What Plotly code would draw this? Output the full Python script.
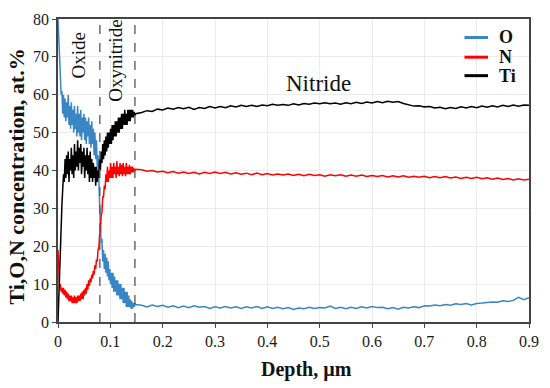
import plotly.graph_objects as go

# ---------------- data ----------------
# sampling depths (µm): dense near the surface, coarser in the bulk
depth_surface = [round(0.0015 * i, 4) for i in range(100)]
depth_bulk = [round(0.16 + 0.01 * i, 2) for i in range(75)]

o_surface = [80, 75, 69, 64, 60, 61, 55, 60, 54, 59,
             53, 58, 54, 60, 52, 57, 51, 58, 52, 56,
             50, 57, 51, 55, 49, 57, 50, 55, 49, 56,
             48, 54, 50, 55, 48, 54, 47, 53, 49, 54,
             47, 52, 46, 53, 47, 51, 44, 50, 43, 48,
             41, 44, 36, 30, 25, 21, 22, 16, 19, 14,
             18, 13, 17, 12, 16, 11, 14, 10, 13, 9,
             13, 8, 12, 8, 11, 7, 11, 7, 10, 6,
             10, 6, 9, 5, 9, 5, 8, 4, 8, 4,
             7, 4, 6, 3.5, 5.5, 3.5, 5, 4, 5, 4.6]
n_surface = [19, 12, 9, 10, 8, 9, 7.5, 9, 7, 8.5,
             6.5, 8, 6, 7.5, 5.5, 7, 5.5, 7, 5, 6.5,
             5, 7, 5, 6.5, 5, 7, 5.5, 7, 5.5, 7.5,
             6, 8, 6, 8.5, 7, 9, 7.5, 10, 8.5, 11,
             9.5, 11.5, 10.5, 12.5, 11.5, 13.5, 12.5, 15, 14, 16.5,
             16, 19, 19.5, 23, 24, 28, 29, 33, 33, 36,
             35, 39, 37, 41, 37, 40, 38, 42, 38, 41,
             38, 42, 39, 41, 38, 42.5, 39, 41, 38.5, 42,
             39, 41.5, 38.5, 42, 39, 41, 38.5, 42, 39, 41,
             39, 41.5, 39, 41, 39.5, 41, 39.5, 40.5, 40, 40.3]
ti_surface = [0, 7, 14, 20, 26, 31, 35, 39, 37, 43,
              38, 44, 39, 45, 37, 43, 40, 46, 39, 44,
              38, 47, 40, 45, 41, 48, 40, 46, 42, 47,
              39, 45, 41, 46, 38, 44, 40, 46, 39, 44,
              37, 45, 38, 43, 37, 42, 38, 41, 36, 41,
              37, 40, 38, 43, 40, 45, 42, 47, 43, 48,
              44, 49, 45, 50, 46, 50, 47, 51, 47, 52,
              48, 52, 49, 53, 49, 53, 50, 54, 50, 54,
              51, 55, 51, 55, 52, 56, 52, 55, 52, 56,
              53, 56, 53, 56, 54, 56, 54, 55.5, 54.5, 55]

o_bulk = [4.4, 4.0, 4.5, 4.1, 4.4, 3.9, 4.3, 3.8, 4.2, 3.8,
          4.3, 3.9, 4.1, 3.6, 4.0, 3.7, 4.1, 3.7, 4.0, 3.6,
          4.0, 3.7, 4.1, 3.6, 4.0, 3.6, 3.9, 3.5, 3.8, 3.3,
          3.7, 3.5, 3.9, 3.6, 3.8, 3.7, 4.2, 3.6, 3.9, 3.5,
          3.9, 3.6, 4.0, 3.7, 4.1, 3.8, 3.9, 3.5, 3.8, 3.4,
          3.9, 3.7, 4.0, 3.8, 4.3, 4.2, 4.5, 4.3, 4.6, 4.4,
          4.8, 4.6, 4.9, 4.5, 4.9, 5.0, 5.1, 5.3, 5.2, 5.6,
          5.4, 5.7, 6.5, 5.9, 6.4]
n_bulk = [40.2, 39.8, 40.0, 39.6, 39.8, 39.4, 39.7, 39.3, 39.6, 39.2,
          39.5, 39.1, 39.5, 39.2, 39.6, 39.2, 39.5, 39.1, 39.4, 39.0,
          39.3, 38.9, 39.3, 38.9, 39.2, 38.8, 39.1, 38.8, 39.1, 38.7,
          39.0, 38.6, 39.0, 38.7, 38.9, 38.5, 38.9, 38.6, 38.9, 38.5,
          38.8, 38.5, 38.8, 38.4, 38.7, 38.4, 38.7, 38.3, 38.6, 38.3,
          38.6, 38.2, 38.5, 38.2, 38.5, 38.1, 38.4, 38.1, 38.4, 38.0,
          38.3, 37.9, 38.2, 37.9, 38.2, 37.8, 38.1, 37.7, 38.0, 37.6,
          37.9, 37.5, 37.8, 37.5, 37.7]
ti_bulk = [55.3, 55.8, 55.6, 56.2, 56.0, 56.5, 56.2, 56.6, 56.3, 56.7,
           56.1, 56.6, 56.4, 56.9, 56.5, 56.9, 56.6, 57.1, 56.8, 57.2,
           56.9, 57.2, 56.9, 57.3, 57.1, 57.5, 57.2, 57.4, 57.2, 57.6,
           57.3, 57.7, 57.5, 57.8, 57.6, 57.9, 57.6, 57.8, 57.5, 57.9,
           57.6, 58.0, 57.7, 58.1, 57.8, 58.2, 57.9, 58.3, 58.0, 58.2,
           57.7, 57.4, 57.0, 57.1, 56.8, 56.9, 56.5, 56.7, 56.3, 56.6,
           56.4, 56.8, 56.5, 56.9, 56.6, 57.0, 56.7, 57.1, 56.8, 57.2,
           56.9, 57.3, 57.0, 57.3, 57.2]

series_names = ["O", "N", "Ti"]
series_colors = ["#3a86c4", "#ff0000", "#000000"]

# layer boundaries (µm) and region labels
boundaries = [0.08, 0.147]
region_labels = ["Oxide", "Oxynitride", "Nitride"]
region_label_x = [0.041, 0.111, 0.498]
region_label_y = [70.5, 69, 63]

x_ticks = [0, 0.1, 0.2, 0.3, 0.4, 0.5, 0.6, 0.7, 0.8, 0.9]
x_tick_text = ["0", "0.1", "0.2", "0.3", "0.4", "0.5", "0.6", "0.7", "0.8", "0.9"]
y_ticks = [0, 10, 20, 30, 40, 50, 60, 70, 80]

# ---------------- figure ----------------
depth = depth_surface + depth_bulk
values = [o_surface + o_bulk, n_surface + n_bulk, ti_surface + ti_bulk]

SERIF = "Liberation Serif"

fig = go.Figure()
for name, color, vals in zip(series_names, series_colors, values):
    fig.add_trace(go.Scatter(x=depth, y=vals, mode="lines", name=name,
                             line=dict(color=color, width=1.5), showlegend=False))

for b in boundaries:
    fig.add_shape(type="line", xref="x", yref="y", x0=b, x1=b, y0=0, y1=80,
                  line=dict(color="#555555", width=1.3, dash="dash"))

for lbl, lx, ly in zip(region_labels, region_label_x, region_label_y):
    fig.add_annotation(x=lx, y=ly, xref="x", yref="y", text=lbl, showarrow=False,
                       textangle=0 if lbl == "Nitride" else -90,
                       font=dict(family=SERIF, size=23 if lbl == "Nitride" else 19,
                                 color="#111111"))

# legend drawn as key lines + bold labels in the upper-right corner
legend_row_y = [0.939, 0.874, 0.813]
for name, color, ry in zip(series_names, series_colors, legend_row_y):
    fig.add_shape(type="line", xref="paper", yref="paper", x0=0.863, x1=0.913,
                  y0=ry, y1=ry, line=dict(color=color, width=3))
    fig.add_annotation(x=0.933, y=ry, xref="paper", yref="paper", text="<b>" + name + "</b>",
                       showarrow=False, xanchor="left", yanchor="middle",
                       font=dict(family=SERIF, size=18, color="#111111"))

fig.add_annotation(x=0.527, y=-0.156, xref="paper", yref="paper", text="<b>Depth, µm</b>",
                   showarrow=False, xanchor="center", yanchor="middle",
                   font=dict(family=SERIF, size=20, color="#111111"))
fig.add_annotation(x=-0.087, y=0.48, xref="paper", yref="paper",
                   text="<b>Ti,O,N concentration, at.%</b>", showarrow=False, textangle=-90,
                   xanchor="center", yanchor="middle",
                   font=dict(family=SERIF, size=22, color="#111111"))

axis_common = dict(showline=True, mirror=True, linecolor="#444444", linewidth=1.5,
                   ticks="outside", ticklen=4, tickcolor="#444444",
                   showgrid=True, gridcolor="#ececec", gridwidth=1, zeroline=False,
                   tickfont=dict(family=SERIF, size=16, color="#1a1a1a"))

fig.update_xaxes(range=[0, 0.9], tickvals=x_ticks, ticktext=x_tick_text, **axis_common)
fig.update_yaxes(range=[0, 80], tickvals=y_ticks, **axis_common)

fig.update_layout(
    width=550, height=388,
    margin=dict(l=58, r=18, t=11, b=66),
    plot_bgcolor="white", paper_bgcolor="white",
    showlegend=False,
)

fig.write_html("out.html", config={"displayModeBar": False},
               post_script="document.body.style.margin='0';")
